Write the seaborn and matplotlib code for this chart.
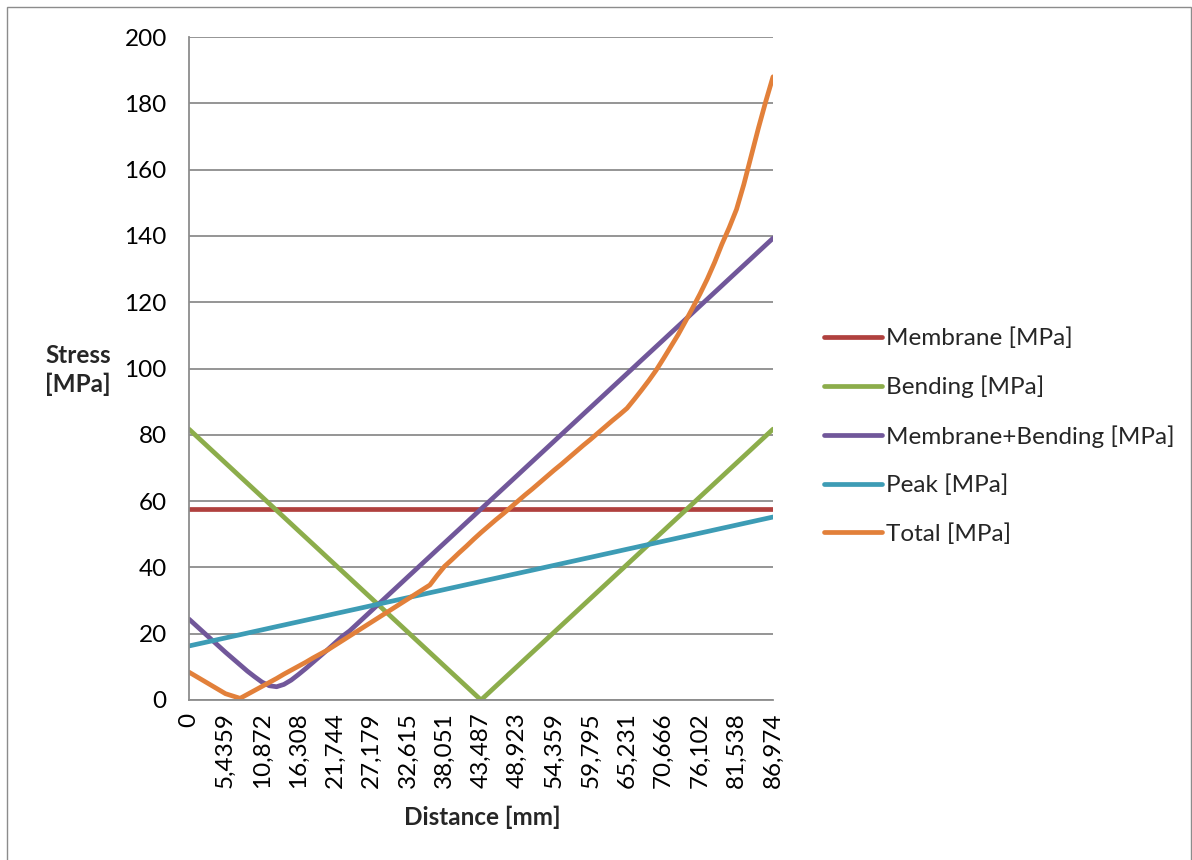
import numpy as np
import pandas as pd
import matplotlib
matplotlib.use("Agg")
import matplotlib.pyplot as plt
from matplotlib.patches import Rectangle
from matplotlib.ticker import MultipleLocator, FixedLocator, FixedFormatter
import seaborn as sns

# Stress linearisation along the path (81 evaluation points)
membrane = [57.6] * 81

bending = [
    81.70, 79.66, 77.62, 75.57, 73.53, 71.49, 69.45, 67.40, 65.36, 63.32,
    61.28, 59.23, 57.19, 55.15, 53.11, 51.06, 49.02, 46.98, 44.94, 42.89,
    40.85, 38.81, 36.77, 34.72, 32.68, 30.64, 28.60, 26.55, 24.51, 22.47,
    20.43, 18.38, 16.34, 14.30, 12.26, 10.21, 8.17, 6.13, 4.09, 2.04,
    0.00,
    2.04, 4.09, 6.13, 8.17, 10.21, 12.26, 14.30, 16.34, 18.38, 20.43,
    22.47, 24.51, 26.55, 28.60, 30.64, 32.68, 34.72, 36.77, 38.81, 40.85,
    42.89, 44.94, 46.98, 49.02, 51.06, 53.11, 55.15, 57.19, 59.23, 61.28,
    63.32, 65.36, 67.40, 69.45, 71.49, 73.53, 75.57, 77.62, 79.66, 81.70,
]

membrane_bending = [
    24.4, 22.4, 20.4, 18.4, 16.4, 14.4, 12.5, 10.6, 8.7, 7.0,
    5.4, 4.3, 4.0, 4.7, 6.0, 7.7, 9.5, 11.4, 13.3, 15.2,
    17.2, 19.2, 20.84, 22.88, 24.92, 26.96, 29.01, 31.05, 33.09, 35.13,
    37.18, 39.22, 41.26, 43.30, 45.35, 47.39, 49.43, 51.47, 53.52, 55.56,
    57.60, 59.64, 61.69, 63.73, 65.77, 67.81, 69.86, 71.90, 73.94, 75.98,
    78.03, 80.07, 82.11, 84.15, 86.20, 88.24, 90.28, 92.32, 94.37, 96.41,
    98.45, 100.49, 102.54, 104.58, 106.62, 108.66, 110.71, 112.75, 114.79, 116.83,
    118.88, 120.92, 122.96, 125.00, 127.05, 129.09, 131.13, 133.17, 135.22, 137.26,
    139.30,
]

peak = [
    16.30, 16.79, 17.27, 17.76, 18.25, 18.73, 19.22, 19.70, 20.19, 20.68,
    21.16, 21.65, 22.14, 22.62, 23.11, 23.59, 24.08, 24.57, 25.05, 25.54,
    26.03, 26.51, 27.00, 27.48, 27.97, 28.46, 28.94, 29.43, 29.92, 30.40,
    30.89, 31.37, 31.86, 32.35, 32.83, 33.32, 33.81, 34.29, 34.78, 35.26,
    35.75, 36.24, 36.72, 37.21, 37.70, 38.18, 38.67, 39.15, 39.64, 40.13,
    40.61, 41.10, 41.59, 42.07, 42.56, 43.04, 43.53, 44.02, 44.50, 44.99,
    45.48, 45.96, 46.45, 46.93, 47.42, 47.91, 48.39, 48.88, 49.37, 49.85,
    50.34, 50.82, 51.31, 51.80, 52.28, 52.77, 53.26, 53.74, 54.23, 54.71,
    55.20,
]

total = [
    8.4, 7.1, 5.8, 4.5, 3.2, 1.9, 1.2, 0.5, 1.7, 2.9,
    4.1, 5.3, 6.5, 7.8, 9.0, 10.2, 11.4, 12.7, 13.9, 15.1,
    16.5, 17.9, 19.3, 20.7, 22.1, 23.5, 24.9, 26.3, 27.7, 29.1,
    30.5, 31.9, 33.3, 34.7, 37.6, 40.3, 42.3, 44.4, 46.4, 48.5,
    50.5, 52.4, 54.3, 56.1, 58.0, 59.9, 61.8, 63.6, 65.5, 67.4,
    69.3, 71.1, 73.0, 74.9, 76.8, 78.6, 80.5, 82.4, 84.3, 86.1,
    88.0, 90.7, 93.5, 96.4, 99.5, 103.0, 106.6, 110.2, 114.2, 118.3,
    122.5, 127.0, 132.0, 137.5, 142.5, 148.0, 155.5, 164.0, 172.5, 180.5,
    188.0,
]

distance_labels = [
    "0", "5,4359", "10,872", "16,308", "21,744", "27,179", "32,615",
    "38,051", "43,487", "48,923", "54,359", "59,795", "65,231", "70,666",
    "76,102", "81,538", "86,974",
]

series_names = [
    "Membrane [MPa]", "Bending [MPa]", "Membrane+Bending [MPa]",
    "Peak [MPa]", "Total [MPa]",
]
series_values = [membrane, bending, membrane_bending, peak, total]
colors = ["#B0413E", "#8CAD4B", "#71579A", "#3D9CB5", "#E2803A"]

frames = []
for name, vals in zip(series_names, series_values):
    frames.append(pd.DataFrame({
        "point": np.arange(len(vals)),
        "stress": vals,
        "series": name,
    }))
df = pd.concat(frames, ignore_index=True)

sns.set_style("white")
plt.rcParams["font.family"] = ["Lato", "DejaVu Sans"]

FS = 17.5

fig = plt.figure(figsize=(11.92, 8.60), dpi=100)
ax = fig.add_axes([189 / 1192, 1 - 700 / 860, 584 / 1192, 663 / 860])

sns.lineplot(
    data=df, x="point", y="stress", hue="series",
    hue_order=series_names, palette=dict(zip(series_names, colors)),
    linewidth=3.4, ax=ax, legend=True, solid_capstyle="round",
)

grid_c = "#8C8C8C"
ax.set_xlim(0, len(total) - 1)
ax.set_ylim(0, 200)
ax.yaxis.set_major_locator(MultipleLocator(20))
ax.yaxis.grid(True, color=grid_c, linewidth=1.3)
ax.xaxis.grid(False)
ax.set_axisbelow(True)

n_lab = len(distance_labels)
ax.xaxis.set_major_locator(FixedLocator(np.arange(n_lab) * 5))
ax.xaxis.set_major_formatter(FixedFormatter(distance_labels))
ax.xaxis.set_minor_locator(MultipleLocator(1))

for side in ("top", "right"):
    ax.spines[side].set_visible(False)
for side in ("left", "bottom"):
    ax.spines[side].set_color(grid_c)
    ax.spines[side].set_linewidth(1.3)

ax.tick_params(axis="both", which="both", direction="out", length=5,
               width=1.1, color=grid_c, labelsize=FS, labelcolor="black")
ax.tick_params(axis="y", pad=11)
ax.tick_params(axis="x", which="major", pad=4, labelrotation=90)

ax.set_xlabel("")
ax.set_ylabel("")

handles, labels = ax.get_legend_handles_labels()
ax.get_legend().remove()
for h in handles:
    h.set_linewidth(3.4)
fig.legend(handles, labels, loc="center left",
           bbox_to_anchor=(814 / 1192, 1 - 436 / 860), frameon=False,
           fontsize=FS, handlelength=2.4, handletextpad=0.15,
           labelspacing=1.1, borderaxespad=0)

fig.text(45 / 1192, 1 - 370 / 860, "Stress\n[MPa]", ha="left", va="center",
         fontsize=FS, fontweight="bold", linespacing=1.25)
fig.text(482 / 1192, 1 - 817 / 860, "Distance [mm]", ha="center",
         va="center", fontsize=FS, fontweight="bold")

fig.patches.append(Rectangle((7 / 1192, -0.01), 1 - 8 / 1192, 1 - 7 / 860 + 0.01,
                             transform=fig.transFigure, fill=False,
                             edgecolor="#8C8C8C", linewidth=1.0))

fig.savefig("out.png", dpi=100)
